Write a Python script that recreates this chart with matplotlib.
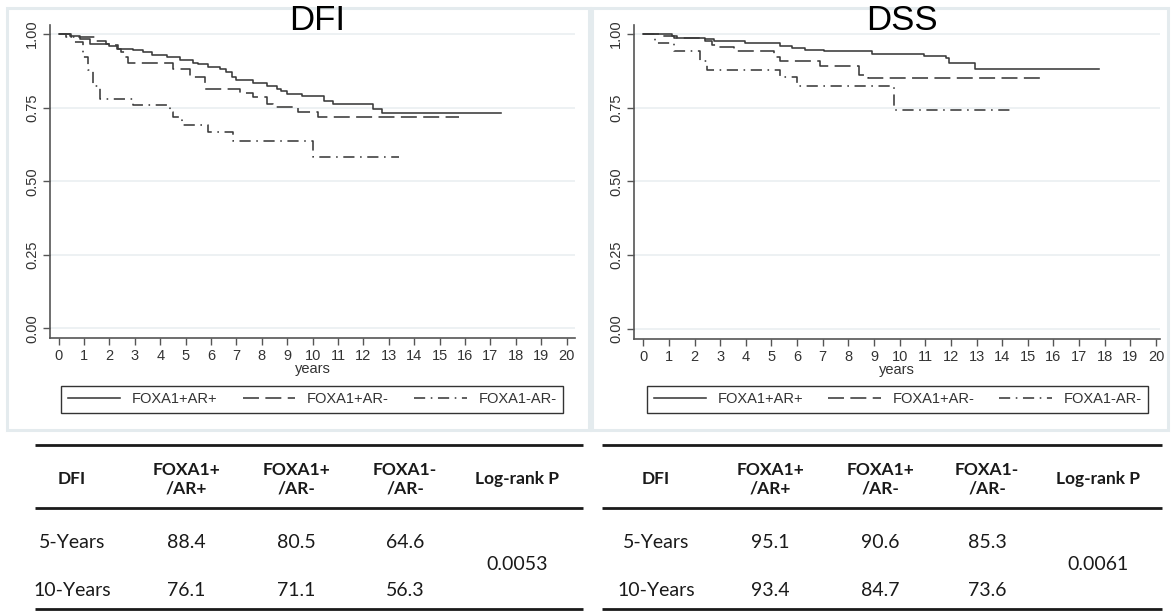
import matplotlib
matplotlib.use("Agg")
import matplotlib.pyplot as plt
from matplotlib.patches import Rectangle

# ---------------- data ----------------
groups = ["FOXA1+AR+", "FOXA1+AR-", "FOXA1-AR-"]
x_ticks = list(range(0, 21))
y_ticks = [0.00, 0.25, 0.50, 0.75, 1.00]
y_tick_labels = ["0.00", "0.25", "0.50", "0.75", "1.00"]

dfi_pos_t = [0, 0.43, 0.83, 1.22, 2.0, 2.28, 2.93, 3.33, 3.66, 4.25, 4.77, 5.3, 5.5, 5.9,
             6.35, 6.6, 6.81, 7.0, 7.67, 8.2, 8.6, 8.75, 8.98, 9.57, 10.43, 10.82, 12.37,
             12.73, 17.42]
dfi_pos_s = [1.0, 0.993, 0.985, 0.966, 0.96, 0.951, 0.945, 0.94, 0.93, 0.923, 0.911, 0.903,
             0.897, 0.888, 0.88, 0.871, 0.854, 0.843, 0.835, 0.823, 0.815, 0.806, 0.797,
             0.788, 0.771, 0.763, 0.746, 0.733, 0.733]

dfi_arneg_t = [0, 0.5, 1.49, 1.88, 2.1, 2.34, 2.47, 2.6, 2.73, 4.51, 5.17, 5.76, 7.14, 7.67,
               8.19, 8.45, 9.44, 10.23, 15.78]
dfi_arneg_s = [1.0, 0.989, 0.977, 0.968, 0.962, 0.951, 0.94, 0.923, 0.903, 0.88, 0.854,
               0.815, 0.801, 0.786, 0.763, 0.752, 0.735, 0.718, 0.718]

dfi_neg_t = [0, 0.3, 0.6, 0.96, 1.16, 1.35, 1.62, 2.93, 4.38, 4.5, 4.84, 5.89, 6.88, 10.03,
             13.4]
dfi_neg_s = [1.0, 0.99, 0.974, 0.923, 0.877, 0.823, 0.78, 0.758, 0.735, 0.718, 0.69, 0.667,
             0.638, 0.581, 0.581]

dss_pos_t = [0, 1.12, 1.31, 2.42, 2.74, 3.98, 5.35, 5.81, 6.29, 7.04, 8.93, 10.95, 11.8,
             11.93, 12.95, 17.79]
dss_pos_s = [1.0, 0.991, 0.987, 0.982, 0.974, 0.968, 0.959, 0.951, 0.945, 0.94, 0.932,
             0.926, 0.917, 0.9, 0.881, 0.881]

dss_arneg_t = [0, 0.66, 1.18, 2.42, 2.68, 2.88, 3.52, 5.09, 5.35, 6.91, 8.41, 8.75, 15.5]
dss_arneg_s = [1.0, 0.991, 0.985, 0.974, 0.962, 0.955, 0.942, 0.92, 0.906, 0.891, 0.86,
               0.849, 0.849]

dss_neg_t = [0, 0.47, 1.18, 2.23, 2.49, 5.35, 6.0, 9.78, 14.34]
dss_neg_s = [1.0, 0.97, 0.943, 0.906, 0.877, 0.854, 0.823, 0.741, 0.741]

table_header = ["DFI", "FOXA1+\n/AR+", "FOXA1+\n/AR-", "FOXA1-\n/AR-", "Log-rank P"]
row_labels = ["5-Years", "10-Years"]
dfi_5y = ["88.4", "80.5", "64.6"]
dfi_10y = ["76.1", "71.1", "56.3"]
dfi_p = "0.0053"
dss_5y = ["95.1", "90.6", "85.3"]
dss_10y = ["93.4", "84.7", "73.6"]
dss_p = "0.0061"

# ---------------- figure ----------------
W, H = 1172, 611
fig = plt.figure(figsize=(W / 100, H / 100), dpi=100)
fig.patch.set_facecolor("white")

def frect(x0, y0, x1, y1):
    return [x0 / W, 1 - y1 / H, (x1 - x0) / W, (y1 - y0) / H]

overlay = fig.add_axes([0, 0, 1, 1])
overlay.set_xlim(0, W)
overlay.set_ylim(H, 0)
overlay.axis("off")

border_c = "#e4ebee"
overlay.add_patch(Rectangle((7, 8), 582, 422, fill=False, ec=border_c, lw=2.2))
overlay.add_patch(Rectangle((592, 8), 576, 422, fill=False, ec=border_c, lw=2.2))

line_c = "#3a3a3a"
styles = ["-", (0, (10, 4)), (0, (7, 3.5, 1, 3.5))]
tick_font = "Liberation Sans"

def km_panel(rect, xlim, ylim, series, title, title_x, legend_rect):
    ax = fig.add_axes(frect(*rect))
    ax.set_facecolor("none")
    handles = []
    for (t, s), ls, lab in zip(series, styles, groups):
        h, = ax.step(t, s, where="post", color=line_c, lw=1.15, linestyle=ls, label=lab)
        handles.append(h)
    ax.set_xlim(*xlim)
    ax.set_ylim(*ylim)
    ax.set_xticks(x_ticks)
    ax.set_xticklabels([str(v) for v in x_ticks], fontsize=10.5, family=tick_font, color="#333333")
    ax.set_yticks(y_ticks)
    ax.set_yticklabels(y_tick_labels, fontsize=10.5, family=tick_font, color="#333333",
                       rotation=90, va="center")
    ax.tick_params(axis="both", length=5, width=1, color="#555555", pad=3)
    ax.grid(axis="y", color="#e8eef0", lw=1.1)
    ax.set_axisbelow(True)
    for sp in ["top", "right"]:
        ax.spines[sp].set_visible(False)
    for sp in ["left", "bottom"]:
        ax.spines[sp].set_color("#555555")
        ax.spines[sp].set_linewidth(1.2)
    ax.set_xlabel("years", fontsize=10.5, family=tick_font, color="#333333", labelpad=-1)
    fig.text(title_x / W, 1 - 20 / H, title, fontsize=25, family=tick_font,
             ha="center", va="center", color="black")
    lx0, ly0, lx1, ly1 = legend_rect
    leg = fig.legend(handles=handles, labels=groups, ncol=3, mode="expand",
                     loc="lower left",
                     bbox_to_anchor=(lx0 / W, 1 - ly1 / H, (lx1 - lx0) / W, (ly1 - ly0) / H),
                     borderaxespad=0, frameon=True, fancybox=False, framealpha=1,
                     edgecolor="#333333", handlelength=3.6, handletextpad=0.8,
                     prop={"family": tick_font, "size": 10.5}, borderpad=0.45)
    leg.get_frame().set_linewidth(1.0)
    for txt in leg.get_texts():
        txt.set_color("#333333")
    return ax

km_panel((50, 25, 575, 338.3), (-0.34, 20.33), (-0.034, 1.031),
         [(dfi_pos_t, dfi_pos_s), (dfi_arneg_t, dfi_arneg_s), (dfi_neg_t, dfi_neg_s)],
         "DFI", 317, (61, 386, 563, 413))
km_panel((634.3, 25, 1160, 339), (-0.351, 20.156), (-0.034, 1.0295),
         [(dss_pos_t, dss_pos_s), (dss_arneg_t, dss_arneg_s), (dss_neg_t, dss_neg_s)],
         "DSS", 902, (647, 386, 1148, 413))

# ---------------- tables ----------------
tfont = "Lato"
def draw_table(x0, x1, col_x, r5, r10, pval):
    for y in (445, 508, 609):
        overlay.plot([x0, x1], [y, y], color="#1a1a1a", lw=2.0, solid_capstyle="butt")
    for cx, txt in zip(col_x, table_header):
        overlay.text(cx, 479, txt, ha="center", va="center", fontsize=12.5, family=tfont,
                     fontweight="bold", color="#1a1a1a", linespacing=1.2)
    overlay.text(col_x[0], 543, row_labels[0], ha="center", va="center", fontsize=14,
                 family=tfont, color="#1a1a1a")
    overlay.text(col_x[0], 590, row_labels[1], ha="center", va="center", fontsize=14,
                 family=tfont, color="#1a1a1a")
    for cx, v5, v10 in zip(col_x[1:4], r5, r10):
        overlay.text(cx, 543, v5, ha="center", va="center", fontsize=14, family=tfont,
                     color="#1a1a1a")
        overlay.text(cx, 590, v10, ha="center", va="center", fontsize=14, family=tfont,
                     color="#1a1a1a")
    overlay.text(col_x[4], 565, pval, ha="center", va="center", fontsize=14, family=tfont,
                 color="#1a1a1a")

draw_table(35, 583, [72, 186, 296, 405, 517], dfi_5y, dfi_10y, dfi_p)
draw_table(602, 1162, [656, 770, 880, 987, 1098], dss_5y, dss_10y, dss_p)

fig.savefig("out.png", dpi=100)
